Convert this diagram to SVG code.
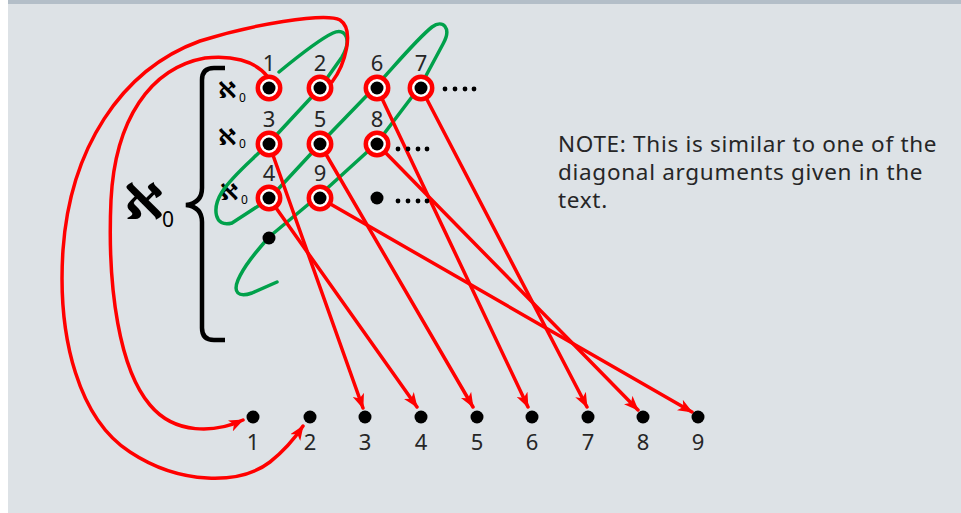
<svg xmlns="http://www.w3.org/2000/svg" width="961" height="513" viewBox="0 0 961 513">
<style>
.num{font-family:"Noto Sans","DejaVu Sans",sans-serif;font-size:22px;fill:#262626;text-anchor:middle}
.note{font-family:"Noto Sans","DejaVu Sans",sans-serif;font-size:22.5px;letter-spacing:0.7px;fill:#262626}
.aleph{font-family:"DejaVu Sans",sans-serif;font-weight:bold;fill:#000}
.sub{font-family:"Noto Sans","DejaVu Sans",sans-serif;fill:#000}
.red{fill:none;stroke:#ff0000;stroke-width:3.5;stroke-linecap:round}
.arr{marker-end:url(#ah)}
.ring{fill:#fff;stroke:#ff0000;stroke-width:4.5}
.dot{fill:#000}
</style>
<defs>
<marker id="ah" markerUnits="userSpaceOnUse" markerWidth="16" markerHeight="12" refX="14" refY="6" orient="auto" viewBox="0 0 16 12">
<path d="M0,0 L15,6 L0,12 L4,6 z" fill="#ff0000"/>
</marker>
</defs>
<rect x="0" y="0" width="961" height="513" fill="#ffffff"/>
<rect x="8" y="0" width="953" height="513" fill="#dde2e6"/>
<rect x="8" y="0" width="953" height="4" fill="#b3bec8"/>

<g id="brace">
<path d="M225,68 L214,68 Q202,68 202,80 L202,188 Q202,203 186,205 Q202,207 202,222 L202,328 Q202,340 214,340 L225,340" fill="none" stroke="#000" stroke-width="4.5"/>
</g>

<g id="labels-aleph">
<text class="aleph" x="124" y="219" font-size="50">ℵ</text>
<text class="sub" x="162" y="227" font-size="21">0</text>
<text class="aleph" x="218" y="98" font-size="23">ℵ</text>
<text class="sub" x="239" y="102" font-size="12">0</text>
<text class="aleph" x="218" y="145" font-size="23">ℵ</text>
<text class="sub" x="239" y="148" font-size="12">0</text>
<text class="aleph" x="220" y="200" font-size="23">ℵ</text>
<text class="sub" x="241" y="204" font-size="12">0</text>
</g>

<g id="green-path">
<path d="M279,72 C296,58 318,40 333,33 C346,27 352,40 342,57 L320,88 L269,143 C250,162 232,176 222,192 C212,208 214,228 232,223 L269,199 L320,144 L377,85 C398,62 418,38 432,27 C443,19 452,28 443,44 L421,85 L377,143 L322,193 L269,237 C256,252 244,266 238,280 C233,292 238,298 252,293 L277,282" fill="none" stroke="#00a14b" stroke-width="3.5" stroke-linecap="round" stroke-linejoin="round"/>
</g>

<g id="connectors">
<path class="red arr" d="M268,77 C255,60 230,55 205,58 C150,68 115,120 111,200 C107,290 120,370 150,405 C175,435 215,433 243,420"/>
<path class="red arr" d="M332,82 C345,65 355,30 340,20 C325,12 250,25 200,41 C120,70 70,150 63,250 C57,340 80,420 130,452 C180,485 240,485 270,462 C285,450 295,438 303,426"/>
<path class="red arr" d="M269,144 L363,408"/>
<path class="red arr" d="M269,198 L417,407"/>
<path class="red arr" d="M320,144 L473,407"/>
<path class="red arr" d="M377,88 L528,407"/>
<path class="red arr" d="M421,88 L587,407"/>
<path class="red arr" d="M377,144 L638,410"/>
<path class="red arr" d="M320,198 L692,412"/>
</g>

<g id="grid-nodes">
<g id="n1"><circle class="ring" cx="269" cy="88" r="11.2"/><circle class="dot" cx="269" cy="88" r="6.5"/><text class="num" x="269" y="71">1</text></g>
<g id="n2"><circle class="ring" cx="320" cy="88" r="11.2"/><circle class="dot" cx="320" cy="88" r="6.5"/><text class="num" x="320" y="71">2</text></g>
<g id="n6"><circle class="ring" cx="377" cy="88" r="11.2"/><circle class="dot" cx="377" cy="88" r="6.5"/><text class="num" x="377" y="71">6</text></g>
<g id="n7"><circle class="ring" cx="421" cy="88" r="11.2"/><circle class="dot" cx="421" cy="88" r="6.5"/><text class="num" x="421" y="71">7</text></g>
<g id="n3"><circle class="ring" cx="269" cy="144" r="11.2"/><circle class="dot" cx="269" cy="144" r="6.5"/><text class="num" x="269" y="127">3</text></g>
<g id="n5"><circle class="ring" cx="320" cy="144" r="11.2"/><circle class="dot" cx="320" cy="144" r="6.5"/><text class="num" x="320" y="127">5</text></g>
<g id="n8"><circle class="ring" cx="377" cy="144" r="11.2"/><circle class="dot" cx="377" cy="144" r="6.5"/><text class="num" x="377" y="127">8</text></g>
<g id="n4"><circle class="ring" cx="269" cy="198" r="11.2"/><circle class="dot" cx="269" cy="198" r="6.5"/><text class="num" x="269" y="181">4</text></g>
<g id="n9"><circle class="ring" cx="320" cy="198" r="11.2"/><circle class="dot" cx="320" cy="198" r="6.5"/><text class="num" x="320" y="181">9</text></g>
<g id="p1"><circle class="dot" cx="377" cy="198" r="6.5"/></g>
<g id="p2"><circle class="dot" cx="269" cy="238" r="6.5"/></g>
<g id="ellipses">
<circle class="dot" cx="445" cy="89" r="2.4"/><circle class="dot" cx="455" cy="89" r="2.4"/><circle class="dot" cx="465" cy="89" r="2.4"/><circle class="dot" cx="474" cy="89" r="2.4"/>
<circle class="dot" cx="398" cy="149" r="2.4"/><circle class="dot" cx="408" cy="149" r="2.4"/><circle class="dot" cx="418" cy="149" r="2.4"/><circle class="dot" cx="427" cy="149" r="2.4"/>
<circle class="dot" cx="398" cy="201" r="2.4"/><circle class="dot" cx="408" cy="201" r="2.4"/><circle class="dot" cx="418" cy="201" r="2.4"/><circle class="dot" cx="427" cy="201" r="2.4"/>
</g>
</g>

<g id="bottom-nodes">
<g id="b1"><circle class="dot" cx="253" cy="417" r="6.5"/><text class="num" x="253" y="450">1</text></g>
<g id="b2"><circle class="dot" cx="310" cy="417" r="6.5"/><text class="num" x="310" y="450">2</text></g>
<g id="b3"><circle class="dot" cx="365" cy="417" r="6.5"/><text class="num" x="365" y="450">3</text></g>
<g id="b4"><circle class="dot" cx="421" cy="417" r="6.5"/><text class="num" x="421" y="450">4</text></g>
<g id="b5"><circle class="dot" cx="477" cy="417" r="6.5"/><text class="num" x="477" y="450">5</text></g>
<g id="b6"><circle class="dot" cx="532" cy="417" r="6.5"/><text class="num" x="532" y="450">6</text></g>
<g id="b7"><circle class="dot" cx="588" cy="417" r="6.5"/><text class="num" x="588" y="450">7</text></g>
<g id="b8"><circle class="dot" cx="643" cy="417" r="6.5"/><text class="num" x="643" y="450">8</text></g>
<g id="b9"><circle class="dot" cx="698" cy="417" r="6.5"/><text class="num" x="698" y="450">9</text></g>
</g>

<g id="note">
<text class="note" x="558" y="152">NOTE: This is similar to one of the</text>
<text class="note" x="558" y="180">diagonal arguments given in the</text>
<text class="note" x="558" y="208">text.</text>
</g>
</svg>
